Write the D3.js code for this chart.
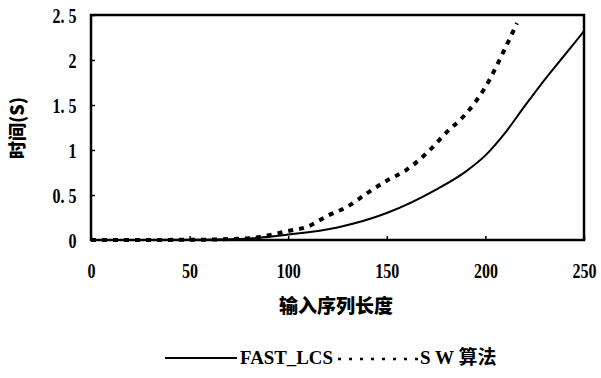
<!DOCTYPE html>
<html><head><meta charset="utf-8">
<script src="https://cdn.jsdelivr.net/npm/d3@7"></script>
<style>
html,body{margin:0;padding:0;background:#fff;}
svg{display:block;}
</style></head>
<body>
<svg id="chart" width="601" height="378"></svg>
<script>
// Data
const fastLengths = [0, 50, 75, 100, 125, 150, 175, 190, 200, 210, 220, 230, 240, 250];
const fastTimes   = [0, 0.002, 0.01, 0.06, 0.14, 0.30, 0.56, 0.76, 0.94, 1.19, 1.49, 1.78, 2.05, 2.32];
const swLengths = [0, 50, 80, 100, 110, 120, 130, 140, 150, 160, 170, 180, 190, 200, 210, 216];
const swTimes   = [0, 0.002, 0.02, 0.10, 0.15, 0.27, 0.37, 0.52, 0.66, 0.78, 0.96, 1.19, 1.40, 1.70, 2.13, 2.41];
const xTicks = [0, 50, 100, 150, 200, 250];
const yTicks = [0, 0.5, 1, 1.5, 2, 2.5];
const yTickLabels = ["0", "0. 5", "1", "1. 5", "2", "2. 5"];
const seriesNames = ["FAST_LCS", "S W 算法"];
const xTitle = "输入序列长度";
const yTitle = "时间(S)";

const SERIF = "'Liberation Serif', 'Times New Roman', 'DejaVu Serif', serif";
const svg = d3.select("#chart");
const L = 91, R = 584, T = 15, B = 240;
const x = d3.scaleLinear().domain([0, 250]).range([L, R]);
const y = d3.scaleLinear().domain([0, 2.5]).range([B, T]);

// frame
svg.append("rect").attr("x", L).attr("y", T).attr("width", R - L).attr("height", B - T)
  .attr("fill", "none").attr("stroke", "#000").attr("stroke-width", 2.5);

// axes
const xAxis = svg.append("g").attr("transform", `translate(0,${B})`)
  .call(d3.axisBottom(x).tickValues(xTicks).tickSize(-4).tickPadding(24).tickFormat(d3.format("d")))
  .attr("font-family", SERIF).attr("font-size", 20).attr("font-weight", "bold");
xAxis.select(".domain").remove();
xAxis.selectAll(".tick line").attr("stroke", "#000").attr("stroke-width", 1.5);
xAxis.selectAll(".tick text").attr("fill", "#000").attr("transform", "scale(0.8,1)");

const yAxis = svg.append("g").attr("transform", `translate(${L},0)`)
  .call(d3.axisLeft(y).tickValues(yTicks).tickSize(-4).tickPadding(18).tickFormat((d, i) => yTickLabels[i]))
  .attr("font-family", SERIF).attr("font-size", 20).attr("font-weight", "bold");
yAxis.select(".domain").remove();
yAxis.selectAll(".tick line").attr("stroke", "#000").attr("stroke-width", 1.5);
yAxis.selectAll(".tick text").attr("fill", "#000").style("white-space", "pre")
  .attr("transform", "scale(0.8,1)").attr("dy", "0.35em");

// titles
svg.append("text").attr("x", 336).attr("y", 313).attr("text-anchor", "middle")
  .style("font-family", "'Noto Sans CJK SC'").style("font-weight", "900").style("font-size", "19px")
  .text(xTitle);
svg.append("text").attr("transform", "translate(24,128) rotate(-90)").attr("text-anchor", "middle")
  .style("font-family", "'Noto Sans CJK SC'").style("font-weight", "900").style("font-size", "18px")
  .text(yTitle);

// lines
const line = d3.line().x(d => x(d[0])).y(d => y(d[1])).curve(d3.curveMonotoneX);
const fastData = fastLengths.map((v, i) => [v, fastTimes[i]]);
const swData = swLengths.map((v, i) => [v, swTimes[i]]);
svg.append("path").datum(fastData).attr("d", line).attr("fill", "none")
  .attr("stroke", "#000").attr("stroke-width", 2);
svg.append("path").datum(swData).attr("d", line).attr("fill", "none")
  .attr("stroke", "#000").attr("stroke-width", 4).attr("stroke-dasharray", "5,6");

// legend
const ly = 358;
const lg = svg.append("g");
lg.append("line").attr("x1", 165).attr("x2", 237).attr("y1", ly).attr("y2", ly)
  .attr("stroke", "#000").attr("stroke-width", 2);
lg.append("text").attr("x", 240).attr("y", ly + 6)
  .style("font-family", SERIF).style("font-weight", "bold").style("font-size", "19px")
  .attr("textLength", 93).attr("lengthAdjust", "spacingAndGlyphs").text(seriesNames[0]);
lg.append("line").attr("x1", 338).attr("x2", 418).attr("y1", ly + 1).attr("y2", ly + 1)
  .attr("stroke", "#000").attr("stroke-width", 2.5).attr("stroke-dasharray", "3,8");
lg.append("text").attr("x", 420).attr("y", ly + 6)
  .style("font-family", "'Liberation Serif', 'Noto Sans CJK SC', serif").style("font-weight", "bold").style("font-size", "19px")
  .style("white-space", "pre").text(seriesNames[1]);
</script>
</body></html>
